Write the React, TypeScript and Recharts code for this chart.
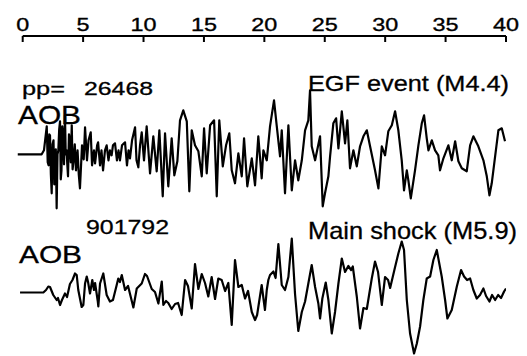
import React from "react";
import { LineChart, Line, XAxis, YAxis, ReferenceLine } from "recharts";

// time axis ticks (s)
const xTicks = [0, 5, 10, 15, 20, 25, 30, 35, 40];

// EGF event (M4.4) trace — time (s) and relative amplitude
const egfTime = [
  -0.41, 1.57, 1.76, 1.99, 2.07, 2.14, 2.2, 2.26, 2.33, 2.4, 2.47, 2.55, 2.61, 2.67, 2.74, 2.81, 2.88, 2.95,
  3.02, 3.09, 3.15, 3.21, 3.28, 3.34, 3.42, 3.5, 3.56, 3.63, 3.69, 3.75, 3.83, 3.91, 3.98, 4.06, 4.13, 4.21,
  4.31, 4.41, 4.54, 4.64, 4.74, 4.91, 5.05, 5.16, 5.32, 5.45, 5.63, 5.74, 5.9, 5.99, 6.16, 6.24, 6.4, 6.52,
  6.65, 6.81, 6.95, 7.1, 7.22, 7.36, 7.47, 7.64, 7.8, 7.93, 8.05, 8.22, 8.47, 8.63, 8.76, 8.88, 9.05, 9.3,
  9.42, 9.57, 9.71, 9.85, 10.04, 10.26, 10.54, 10.81, 11.09, 11.31, 11.59, 11.78, 12.05, 12.33, 12.55, 12.8,
  13.02, 13.29, 13.58, 13.79, 13.99, 14.26, 14.54, 14.82, 15.01, 15.23, 15.51, 15.84, 16.06, 16.27, 16.56,
  16.83, 17.1, 17.3, 17.57, 17.85, 18.13, 18.32, 18.59, 18.96, 19.23, 19.5, 19.78, 19.92, 20.2, 20.47, 20.8,
  21.03, 21.3, 21.44, 21.71, 21.99, 22.27, 22.54, 22.81, 23.1, 23.37, 23.64, 23.78, 23.92, 24.2, 24.61, 24.83,
  25.02, 25.3, 25.44, 25.71, 25.94, 26.13, 26.41, 26.68, 26.87, 27.09, 27.37, 27.65, 27.92, 28.2, 28.48,
  28.75, 29.16, 29.44, 29.72, 29.99, 30.26, 30.55, 30.82, 31.09, 31.37, 31.56, 31.79, 31.92, 32.12, 32.47,
  32.75, 33.03, 33.22, 33.44, 33.58, 33.86, 34.13, 34.4, 34.54, 34.82, 35.23, 35.51, 35.79, 36.06, 36.34,
  36.75, 37.03, 37.3, 37.71, 38.13, 38.41, 38.63, 38.82, 39.1, 39.37, 39.65, 39.92,
];
const egfAmp = [
  0, 0, 4, 28, -8, -11, 20, 19, -20, -39, 10, 14, -30, -21, 5, -54, 0, 4,
  25, 33, -25, -16, 28, 19, -10, 39, 0, 4, -10, -22, 20, 14, -8, 29, -15, -6,
  10, -16, 4, -20, -34, 9, -5, 27, -6, 14, 22, -11, 4, -9, 9, 12, -11, 4,
  -16, 4, 9, -6, 4, -1, 9, 11, -6, 4, -6, 9, 12, -11, 4, -4, 14, 27,
  -6, -13, 9, 22, -6, 28, -19, 18, -17, 24, -42, 21, -32, 16, -21, -7,
  34, 44, 33, -37, 24, 9, 3, -22, 26, -19, 29, 34, -42, 34, -12,
  9, 21, -16, -29, 1, -22, 16, -32, -4, -31, 18, -24, 4, -6, 28, 54,
  28, -2, 24, -39, 29, -36, -6, -26, -6, 24, 34, 64, 8, -6, 18, -52,
  -39, -22, -2, 31, 36, 6, 43, 11, 34, -14, 4, -12, 8, 18, 24,
  8, -16, -34, 8, -1, 23, 29, 43, 24, -6, -36, -16, -26, -44, -16,
  9, 31, 39, 16, 4, 14, 4, -1, -16, -4, 9, -6, 13, -7, -14,
  -17, 9, 18, 8, -6, -22, -41, -29, -2, 24, 26, 13,
];

// Main shock (M5.9) trace — time (s) and relative amplitude
const mainTime = [
  -0.22, 1.71, 1.93, 2.12, 2.26, 2.53, 2.81, 2.92, 3.09, 3.25, 3.5, 3.67, 3.91, 4.12, 4.33, 4.47, 4.6, 4.88,
  5.02, 5.16, 5.3, 5.41, 5.57, 5.76, 5.9, 5.99, 6.21, 6.26, 6.4, 6.67, 6.95, 7.22, 7.47, 7.78, 7.91, 8.05,
  8.2, 8.47, 8.72, 9.16, 9.44, 9.85, 10.12, 10.29, 10.68, 10.95, 11.23, 11.51, 11.64, 11.86, 12.05, 12.33,
  12.61, 12.86, 13.16, 13.44, 13.68, 13.99, 14.26, 14.54, 14.82, 15.09, 15.36, 15.64, 15.92, 16.19, 16.47,
  16.75, 17.02, 17.3, 17.57, 17.85, 18.13, 18.4, 18.65, 18.96, 19.23, 19.4, 19.78, 20.05, 20.2, 20.33, 20.47,
  20.75, 20.93, 21.16, 21.44, 21.71, 21.99, 22.27, 22.54, 22.81, 23.1, 23.37, 23.64, 23.92, 24.2, 24.47,
  24.61, 24.8, 25.08, 25.3, 25.58, 25.85, 26.13, 26.41, 26.68, 26.95, 27.18, 27.32, 27.65, 27.92, 28.2,
  28.48, 28.89, 29.16, 29.41, 29.72, 29.99, 30.24, 30.41, 30.82, 31.09, 31.37, 31.56, 31.79, 32.06, 32.39,
  32.62, 32.89, 33.16, 33.44, 33.72, 33.99, 34.27, 34.68, 34.96, 35.15, 35.51, 35.93, 36.28, 36.53, 36.78,
  37.03, 37.3, 37.58, 37.85, 38.13, 38.35, 38.63, 38.85, 39.1, 39.35, 39.59, 39.84, 40.0,
];
const mainAmp = [
  0, 0, 2.5, 6, 5.5, -2.5, -7.5, -5.5, -12.5, -7.5, -1, -4.5, 8.5, 12.5, 19, 17.5, 2.5, -14.5,
  -12.5, 9, 16, 10.5, -1, 12.5, 2.5, 9.5, -8.5, -14, 9, 19, -2.5, -9, -7.5, 7.5, 14, 10.5,
  17.5, 2.5, 6.5, -15, 4, 9, 18.5, 16.5, 3.5, 0.5, -11, 11, -12.5, -8.5, -10.5, -16.5,
  -11.5, -10.5, -22.5, 12.5, 6.5, -16, 28.5, 3.5, 18.5, 9.5, -4, 15.5, -6.5, 14, 12.5,
  1.5, 9.5, -32.5, 32.5, 5.5, 7.5, -6, 1.5, -19.5, -27.5, -22.5, 7.5, -17.5, 2.5, 12.5, 17.5,
  21, 14.5, 48.5, 7.5, 2.5, 15.5, 54, -1.5, -38.5, -19.5, -9, 9, 27.5, 5.5, -11,
  -26, -6, 10, -7.5, -41, -19.5, 9, 34, 20.5, 26.5, 22.5, 26, -4, -36, -15.5,
  -16.5, 14, 31, 20.5, -12.5, 15.5, 12.5, 4.5, 25.5, 39, 51, 42.5, -7.5, -41, -61,
  -51, -34, -7.5, 14, 16, 32.5, 42.5, 16, -7.5, -26, -17.5, 6, 22.5, 16, 12.5,
  14, 2.5, -6, -2.5, 4, -3.5, -9, -2.5, -7.5, -2.5, -5.5, 1, 4,
];

const egfData = egfTime.map((t, i) => ({ t, a: egfAmp[i] }));
const mainData = mainTime.map((t, i) => ({ t, a: mainAmp[i] }));

const FONT = "'Liberation Sans', Arial, Helvetica, sans-serif";

const TopTick = (props: any) => {
  const { x, y, payload } = props;
  const label = String(payload.value);
  return (
    <g>
      <line x1={x} y1={y} x2={x} y2={y + 6} stroke="#000" strokeWidth={2} />
      <text
        x={x}
        y={y - 5}
        textAnchor="middle"
        fontFamily={FONT}
        fontSize={18.5}
        fill="#000"
        stroke="#000"
        strokeWidth={0.35}
        textLength={label.length === 1 ? 13 : 26}
        lengthAdjust="spacingAndGlyphs"
      >
        {label}
      </text>
    </g>
  );
};

const labels = [
  { text: "pp=", x: 22, y: 95, size: 19, len: 43 },
  { text: "26468", x: 84, y: 95, size: 19, len: 69 },
  { text: "AOB", x: 18, y: 124, size: 26, len: 63 },
  { text: "EGF event (M4.4)", x: 308, y: 91, size: 22, len: 201 },
  { text: "901792", x: 86, y: 234, size: 21, len: 83 },
  { text: "AOB", x: 19, y: 263, size: 23, len: 63 },
  { text: "Main shock (M5.9)", x: 308, y: 239, size: 24, len: 209 },
];

export default function App() {
  return (
    <div style={{ position: "absolute", left: 0, top: 0, width: 527, height: 356, background: "#fff" }}>
      <LineChart width={527} height={356} margin={{ top: 6, right: 21, bottom: 0, left: 16.66 }}>
        <XAxis
          xAxisId="t"
          dataKey="t"
          type="number"
          orientation="top"
          height={30}
          domain={[-0.5, 40]}
          ticks={xTicks}
          allowDataOverflow
          axisLine={false}
          tickLine={false}
          tickSize={0}
          tickMargin={0}
          interval={0}
          tick={<TopTick />}
        />
        <YAxis yAxisId="egf" hide type="number" domain={[-201.7, 118.3]} allowDataOverflow />
        <YAxis yAxisId="main" hide type="number" domain={[-63.5, 256.5]} allowDataOverflow />
        <ReferenceLine
          xAxisId="t"
          yAxisId="egf"
          segment={[
            { x: 0, y: 118.3 },
            { x: 40, y: 118.3 },
          ]}
          stroke="#000"
          strokeWidth={2}
          ifOverflow="visible"
        />
        <Line
          xAxisId="t"
          yAxisId="egf"
          data={egfData}
          dataKey="a"
          type="linear"
          stroke="#000"
          strokeWidth={2.2}
          strokeLinejoin="round"
          dot={false}
          isAnimationActive={false}
        />
        <Line
          xAxisId="t"
          yAxisId="main"
          data={mainData}
          dataKey="a"
          type="linear"
          stroke="#000"
          strokeWidth={2.2}
          strokeLinejoin="round"
          dot={false}
          isAnimationActive={false}
        />
      </LineChart>
      <svg width={527} height={356} style={{ position: "absolute", left: 0, top: 0, pointerEvents: "none" }}>
        {labels.map((l, i) => (
          <text
            key={i}
            x={l.x}
            y={l.y}
            fontFamily={FONT}
            fontSize={l.size}
            fill="#000"
            stroke="#000"
            strokeWidth={0.3}
            textLength={l.len}
            lengthAdjust="spacingAndGlyphs"
          >
            {l.text}
          </text>
        ))}
      </svg>
    </div>
  );
}
